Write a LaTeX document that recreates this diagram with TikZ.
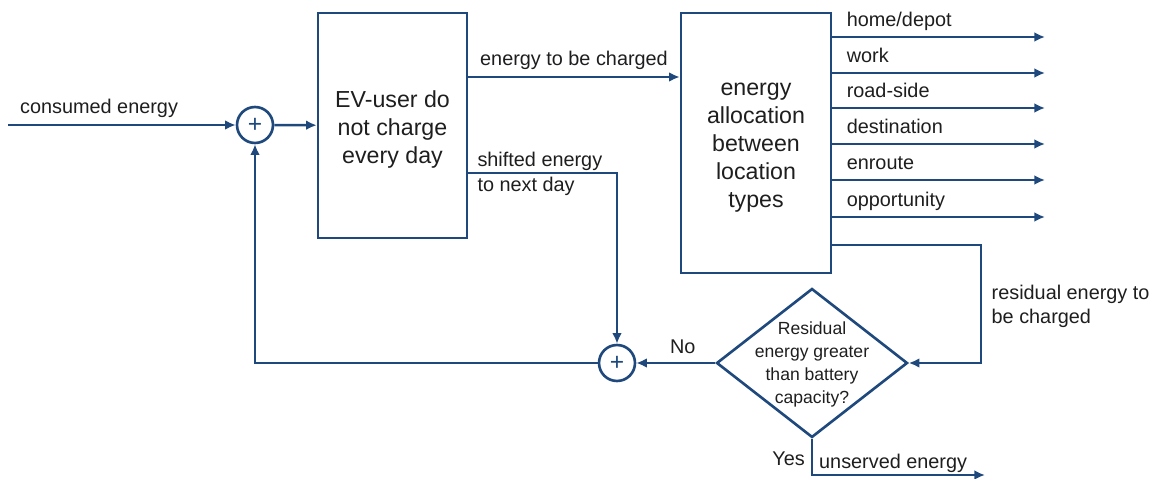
\documentclass[tikz,border=0pt]{standalone}
\usepackage{fontspec}
\setmainfont{Liberation Sans}
\usepackage{tikz}
\usetikzlibrary{shapes.geometric,arrows.meta,positioning,calc}
\definecolor{evblue}{RGB}{31,73,125}
\definecolor{txtgray}{RGB}{30,30,30}

\begin{document}
\begin{tikzpicture}[x=0.02cm,y=-0.02cm,
    flow/.style={evblue,line width=1.5pt,-{Latex[length=6pt,width=5.5pt]}},
    block/.style={draw=evblue,line width=1.5pt,rectangle,align=center,inner sep=0,
                  text=txtgray,font=\fontsize{13.2}{15.9}\selectfont},
    sumnode/.style={draw=evblue,line width=1.5pt,circle,minimum size=0.72cm,inner sep=0,
                    text=evblue,font=\fontsize{14}{14}\selectfont},
    decision/.style={draw=evblue,line width=1.5pt,diamond,inner sep=0,
                     minimum width=3.82cm,minimum height=2.98cm},
    lbl/.style={text=txtgray,font=\fontsize{11.3}{13.6}\selectfont,align=left}]
  \useasboundingbox (0,0) rectangle (1159,479);
  % blocks
  \node[block,minimum width=2.98cm,minimum height=4.5cm] (ev) at (392.5,125.5) {\rule{0pt}{14.5pt}EV-user do\\not charge\\every day};
  \node[block,minimum width=3cm,minimum height=5.2cm] (alloc) at (756,143) {\rule{0pt}{12.5pt}energy\\allocation\\between\\location\\types};
  \node[decision,label={[text=txtgray,font=\fontsize{10}{13.1}\selectfont,align=center,yshift=-1pt]center:Residual\\energy greater\\than battery\\capacity?}] (dec) at (812,363) {};
  % summing points
  \node[sumnode] (sum1) at (255,125) {+};
  \node[sumnode] (sum2) at (617,363) {+};
  % free ends
  \coordinate (in) at (8,125);
  \coordinate (unserved) at (985,475);
  % connectors
  \draw[flow] (in) -- node[lbl,above,pos=0.4]{consumed energy} (sum1);
  \draw[flow] (sum1) -- (ev);
  \draw[flow] (ev.east |- 0,77) -- node[lbl,above]{energy to be charged} (alloc.west |- 0,77);
  \draw[flow] (ev.east |- 0,173) -| (sum2);
  \node[lbl,anchor=west] (shift) at ($(ev.east |- 0,174)+(3,0)$) {shifted energy\\[1pt]to next day};
  \foreach \y/\name [count=\i] in {37/home\slash depot,73/work,108/road-side,144/destination,180/enroute,217/opportunity}{
    \coordinate (o\i) at (1045,\y);
    \draw[flow] (alloc.east |- o\i) -- (o\i) node[lbl,pos=0,anchor=base west,inner sep=0,xshift=7.5pt,yshift=5.8pt]{\name};
  }
  \draw[flow] (alloc.east |- 0,245) -- (981,245) |- node[lbl,right,pos=0.26,xshift=2pt]{residual energy to\\be charged} (dec.east);
  \draw[flow] (dec.west) -- node[lbl,above,xshift=4pt,yshift=1pt]{No} (sum2);
  \draw[flow] (sum2) -| (sum1);
  \draw[flow] (dec.south) |- node[lbl,left,pos=0.27]{Yes} node[lbl,above right,pos=0.5,yshift=-3pt]{unserved energy} (unserved);
\end{tikzpicture}
\end{document}
